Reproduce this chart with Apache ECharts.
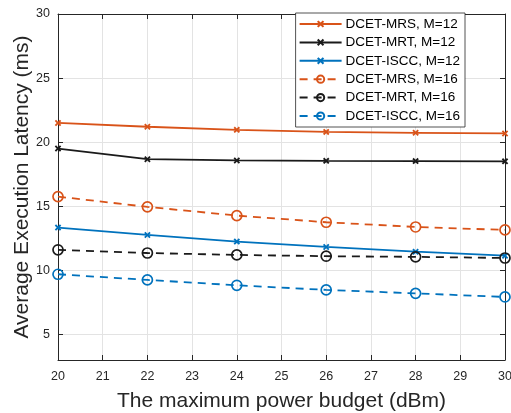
<!DOCTYPE html>
<html>
<head>
<meta charset="utf-8">
<script src="https://cdn.jsdelivr.net/npm/echarts@6/dist/echarts.min.js"></script>
<style>
  html, body { margin: 0; padding: 0; background: #fff; }
  #chart { width: 511px; height: 413px; }
</style>
</head>
<body>
<div id="chart"></div>
<script>
// Maximum power budget (dBm)
const powerBudget = [20, 22, 24, 26, 28, 30];

// Average execution latency (ms)
const mrsM12  = [21.5, 21.2, 20.96, 20.8, 20.73, 20.68];
const mrtM12  = [19.5, 18.67, 18.57, 18.54, 18.52, 18.5];
const isccM12 = [13.33, 12.76, 12.24, 11.82, 11.45, 11.14];
const mrsM16  = [15.75, 14.95, 14.27, 13.75, 13.38, 13.15];
const mrtM16  = [11.6, 11.35, 11.2, 11.1, 11.05, 10.96];
const isccM16 = [9.69, 9.25, 8.83, 8.47, 8.2, 7.92];

const yTicks = [5, 10, 15, 20, 25, 30];

const ORANGE = '#D95319';
const BLACK = '#1a1a1a';
const BLUE = '#0072BD';
const AXIS = '#262626';
const FONT = 'Liberation Sans, Arial, Helvetica, sans-serif';

// small bold "x" marker
const CROSS = 'path://M0,2L2,0L5,3L8,0L10,2L7,5L10,8L8,10L5,7L2,10L0,8L3,5Z';

function pairs(ys) { return ys.map((y, i) => [powerBudget[i], y]); }

function solid(name, ys, color) {
  return {
    name, type: 'line', data: pairs(ys),
    symbol: CROSS, symbolSize: 6.5,
    itemStyle: { color: color },
    lineStyle: { color: color, width: 1.8, type: 'solid' },
    emphasis: { disabled: true }, animation: false, z: 3
  };
}
function dashed(name, ys, color) {
  return {
    name, type: 'line', data: pairs(ys),
    symbol: 'circle', symbolSize: 10,
    itemStyle: { color: 'none', borderColor: color, borderWidth: 1.7 },
    lineStyle: { color: color, width: 1.8, type: [8, 6] },
    emphasis: { disabled: true }, animation: false, z: 3
  };
}

const chart = echarts.init(document.getElementById('chart'), null, { renderer: 'canvas' });

const boxAxis = {
  axisLine: { show: true, lineStyle: { color: AXIS, width: 1 } },
  axisTick: { show: true, inside: true, length: 5, lineStyle: { color: AXIS } },
  axisLabel: { show: false },
  splitLine: { show: false }
};

chart.setOption({
  backgroundColor: '#fff',
  animation: false,
  grid: { left: 58, right: 6, top: 14, bottom: 53, containLabel: false, outerBoundsMode: 'none' },
  xAxis: [{
    type: 'value', min: 20, max: 30, interval: 1,
    name: 'The maximum power budget (dBm)',
    nameLocation: 'middle', nameGap: 31, nameMoveOverlap: false,
    nameTextStyle: { fontFamily: FONT, fontSize: 21, color: AXIS },
    axisLine: { show: true, lineStyle: { color: AXIS, width: 1 } },
    axisTick: { show: true, inside: true, length: 5, lineStyle: { color: AXIS } },
    axisLabel: { fontFamily: FONT, fontSize: 12.5, color: AXIS, margin: 10 },
    splitLine: { show: true, lineStyle: { color: '#e3e3e3', width: 1 } }
  }, Object.assign({ type: 'value', position: 'top', min: 20, max: 30, interval: 1 }, boxAxis)],
  yAxis: [{
    type: 'value', min: 3, max: 30,
    name: 'Average Execution Latency (ms)',
    nameLocation: 'middle', nameGap: 25, nameMoveOverlap: false,
    nameTextStyle: { fontFamily: FONT, fontSize: 21, color: AXIS },
    axisLine: { show: true, lineStyle: { color: AXIS, width: 1 } },
    axisTick: { show: true, inside: true, length: 5, lineStyle: { color: AXIS }, customValues: yTicks },
    axisLabel: { fontFamily: FONT, fontSize: 12.5, color: AXIS, margin: 8, customValues: yTicks },
    splitLine: { show: true, lineStyle: { color: '#e3e3e3', width: 1 } }
  }, Object.assign({ type: 'value', position: 'right', min: 3, max: 30 }, boxAxis,
      { axisTick: { show: true, inside: true, length: 5, lineStyle: { color: AXIS }, customValues: yTicks } })],
  legend: {
    orient: 'vertical', right: 46, top: 13,
    backgroundColor: '#fff', borderColor: AXIS, borderWidth: 0.8, borderRadius: 0,
    padding: [4, 5, 4, 3],
    itemWidth: 42, itemHeight: 9, itemGap: 4.4,
    textStyle: { fontFamily: FONT, fontSize: 13.5, color: '#000', padding: [0, 0, 0, -1] },
    data: ['DCET-MRS, M=12', 'DCET-MRT, M=12', 'DCET-ISCC, M=12',
           'DCET-MRS, M=16', 'DCET-MRT, M=16', 'DCET-ISCC, M=16']
  },
  series: [
    solid('DCET-MRS, M=12', mrsM12, ORANGE),
    solid('DCET-MRT, M=12', mrtM12, BLACK),
    solid('DCET-ISCC, M=12', isccM12, BLUE),
    dashed('DCET-MRS, M=16', mrsM16, ORANGE),
    dashed('DCET-MRT, M=16', mrtM16, BLACK),
    dashed('DCET-ISCC, M=16', isccM16, BLUE)
  ]
});
</script>
</body>
</html>
